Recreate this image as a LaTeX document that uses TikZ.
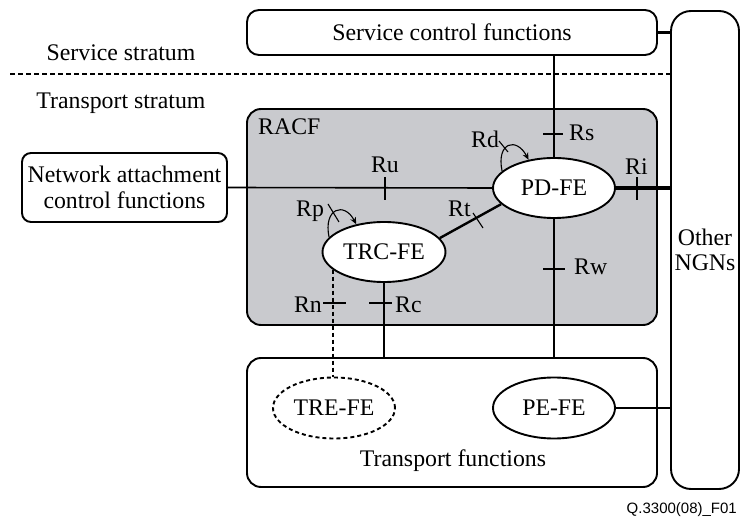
\documentclass[tikz,border=0pt]{standalone}
\usepackage{fontspec}
\setmainfont{Liberation Serif}
\newfontfamily\capsans{Liberation Sans}
\usetikzlibrary{shapes.geometric,arrows.meta,calc}
\definecolor{racfgray}{RGB}{201,202,206}
\newcommand{\lblfont}{\fontsize{23.8}{25.5}\selectfont}
\tikzset{
  box/.style={draw, line width=1.9pt, inner sep=0pt, align=center, font=\lblfont},
  fe/.style={ellipse, draw, fill=white, line width=1.9pt, inner sep=0pt,
             minimum width=122pt, minimum height=60pt, font=\lblfont},
  lab/.style={inner sep=0pt, font=\lblfont},
  link/.style={line width=2.4pt},
  tickmark/.style={line width=1.1pt},
  loopar/.style={line width=1.1pt, -{Stealth[length=7pt,width=6pt]}},
  stratum/.style={line width=2pt, dash pattern=on 5pt off 3pt},
}
\begin{document}
\begin{tikzpicture}[x=1pt,y=-1pt]
\useasboundingbox (0,0) rectangle (742,518);

% boxes
\node[box, rounded corners=12pt, minimum width=410pt, minimum height=45pt]
  (scf) at (452,32.5) {Service control functions};
\node[box, rounded corners=20pt, minimum width=68pt, minimum height=478pt]
  (ngn) at (705,250) {Other\\NGNs};
\node[box, rounded corners=14pt, fill=racfgray, minimum width=410pt, minimum height=216pt]
  (racf) at (452,217) {};
\node[box, rounded corners=14pt, minimum width=410pt, minimum height=129pt]
  (tf) at (452,422.5) {};
\node[box, rounded corners=9pt, minimum width=205pt, minimum height=69pt]
  (nacf) at (124.5,187.5) {Network attachment\\control functions};

% functional entities
\node[fe] (pd) at (554,188) {PD-FE};
\node[fe, minimum width=123pt] (trc) at (384,252) {TRC-FE};
\node[fe, dash pattern=on 4pt off 3pt, minimum height=61pt] (tre) at (334,408) {TRE-FE};
\node[fe, minimum height=61pt] (pe) at (554,408) {PE-FE};

% texts
\node[lab, anchor=base] (ss) at (121,61) {Service stratum};
\node[lab, anchor=base] (ts) at (121,109) {Transport stratum};
\node[lab, anchor=base west] (racflbl) at (258,135) {RACF};
\node[lab, anchor=base] (tflbl) at (453,467) {Transport functions};
\node[inner sep=0pt, anchor=base east, font=\capsans\fontsize{15}{17}\selectfont]
  (fig) at (737,513) {Q.3300(08)\_F01};

% stratum border
\coordinate (dl) at (10,74);
\draw[stratum] (dl) -- (dl -| ngn.west);

% reference points
\draw[link] (scf.east) -- (scf.east -| ngn.west);
\draw[link] (pd.north) -- (pd.north |- scf.south);
\draw[line width=1.6pt] (nacf.east) -- (pd.west);
\draw[line width=3.2pt] (pd.east) -- (pd.east -| ngn.west);
\draw[link] (trc.14) -- (pd.197);
\draw[line width=2.8pt] (pd.south) -- (pd.south |- tf.north);
\draw[link] (trc.south) -- (trc.south |- tf.north);
\draw[line width=1.8pt, dash pattern=on 4pt off 3pt] (trc.199) -- (trc.199 |- tre.north);
\draw[link] (pe.east) -- (pe.east -| ngn.west);

% self loops
\draw[loopar] (pd.162) .. controls +(-6,-29) and +(-12,-23) .. (pd.132);
\draw[loopar] (trc.165) .. controls +(-6,-29) and +(-12,-23) .. (trc.135);

% ticks
\draw[tickmark] (385,177) -- (385,200);
\draw[tickmark] (543,134) -- (563,134);
\draw[tickmark] (637,177) -- (637,200);
\draw[tickmark] (543,269) -- (565,269);
\draw[tickmark] (369,303) -- (392,303);
\draw[tickmark] (323,303) -- (346,303);
\draw[tickmark] (473,213) -- (483,228);
\draw[tickmark] (499,141) -- (508,152);
\draw[tickmark] (328,204) -- (339,222);

% reference point names
\node[lab, anchor=base] (ru) at (385,173) {Ru};
\node[lab, anchor=base west] (rs) at (569,141) {Rs};
\node[lab, anchor=base west] (rd) at (471,148) {Rd};
\node[lab, anchor=base west] (ri) at (625,175) {Ri};
\node[lab, anchor=base west] (rt) at (448,217) {Rt};
\node[lab, anchor=base west] (rp) at (296,217) {Rp};
\node[lab, anchor=base west] (rw) at (574,275) {Rw};
\node[lab, anchor=base west] (rc) at (395,313) {Rc};
\node[lab, anchor=base east] (rn) at (322,313) {Rn};
\end{tikzpicture}
\end{document}
